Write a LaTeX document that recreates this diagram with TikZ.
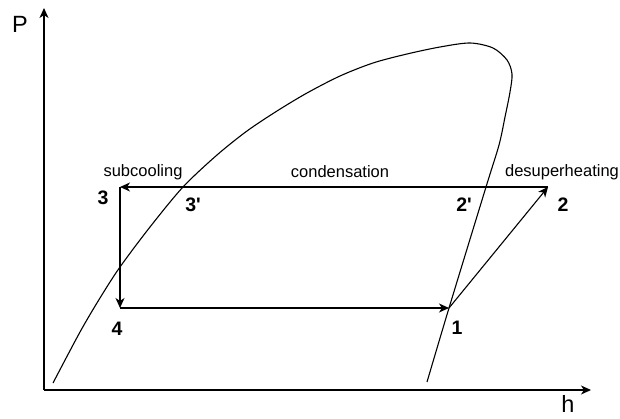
\documentclass[tikz,border=0pt]{standalone}
\usepackage{fontspec}
\setmainfont{Liberation Sans}
\newfontfamily\plainsans{Liberation Sans}[Ligatures=TeXOff]
\usetikzlibrary{arrows.meta}
\begin{document}
\begin{tikzpicture}[x=1pt,y=-1pt,
  line/.style={line width=1.1pt, black},
  arr/.style={line, -{Stealth[length=10pt,width=9pt,inset=3pt]}},
  ptlabel/.style={font=\plainsans\fontsize{19.5}{22}\selectfont\bfseries, inner sep=0pt},
  proclabel/.style={font=\fontsize{16.5}{19}\selectfont, inner sep=0pt},
  axislabel/.style={font=\fontsize{23.5}{26}\selectfont, inner sep=0pt}]
\useasboundingbox (0,0) rectangle (620,419);
% axes
\coordinate (O) at (44,390);
\coordinate (Ytop) at (44,8);
\coordinate (Xend) at (591,390);
\draw[arr] (O) -- (Ytop);
\draw[arr] (O) -- (Xend);
\node[axislabel] (P) at (20,24) {P};
\node[axislabel] (h) at (568,404) {h};
% saturation dome
\draw[line] plot[smooth, tension=0.5] coordinates {
 (53,383) (80,332) (100,298) (120,267) (150,227) (183,187) (217,155)
 (247,131) (277,111) (307,93) (340,76) (373,63) (407,54) (440,47)
 (470,43) (493,48) (507,60) (512,74) (510,92) (505,117) (499,145)
 (486,187) (449,308) (427,382)};
% cycle points
\coordinate (p1) at (449,308);
\coordinate (p2) at (548,187);
\coordinate (p3) at (120,187);
\coordinate (p4) at (120,308);
\draw[arr] (p4) -- (p1);
\draw[arr] (p1) -- (p2);
\draw[arr] (p2) -- (p3);
\draw[arr] (p3) -- (p4);
% labels
\node[ptlabel] (l1) at (457,328) {1};
\node[ptlabel] (l2) at (563,205) {2};
\node[ptlabel] (l2p) at (464,205) {2'};
\node[ptlabel] (l3) at (103,198) {3};
\node[ptlabel] (l3p) at (193,205) {3'};
\node[ptlabel] (l4) at (117,329) {4};
\node[proclabel] (sub) at (143,172) {subcooling};
\node[proclabel] (cond) at (340,172) {condensation};
\node[proclabel] (desup) at (562,172) {desuperheating};
\end{tikzpicture}
\end{document}
